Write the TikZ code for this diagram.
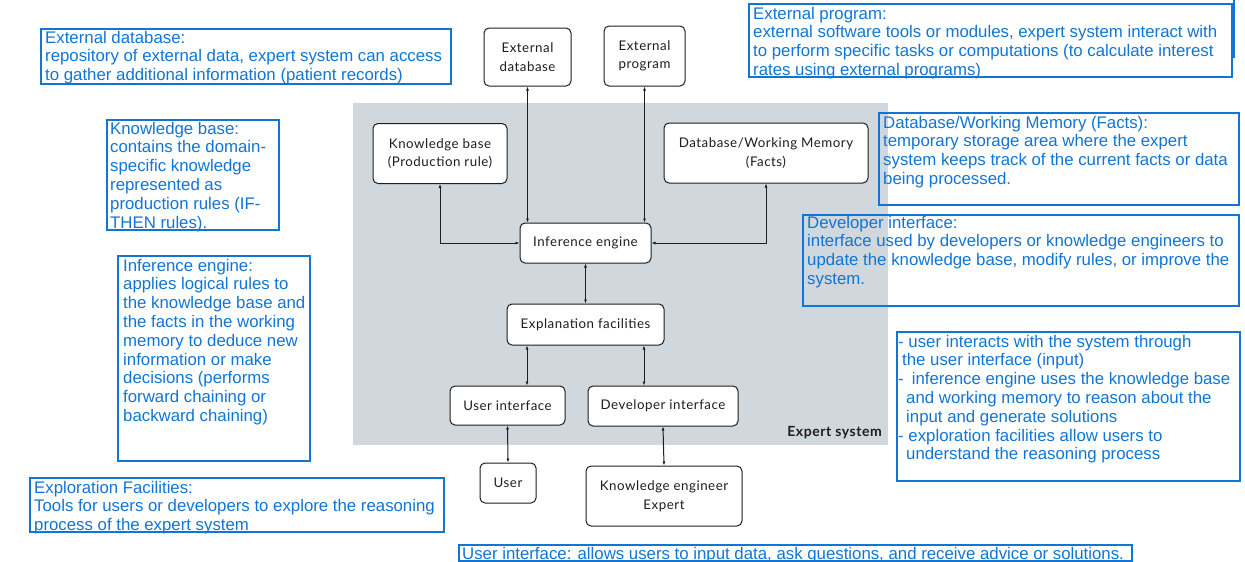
\documentclass[tikz,border=0pt]{standalone}
\usepackage{fontspec}
\setmainfont{Liberation Sans}
\newfontfamily\diafont[LetterSpace=4]{Lato}
\usetikzlibrary{arrows.meta}
\definecolor{bluec}{RGB}{16,117,212}
\definecolor{graybg}{RGB}{208,215,221}
\definecolor{inkc}{RGB}{30,30,30}
\begin{document}
\begin{tikzpicture}[x=1pt,y=-1pt,
  box/.style={draw=inkc, line width=1pt, rounded corners=5pt, fill=white, align=center, inner sep=0pt, font=\diafont\fontsize{13.3}{18.5}\selectfont, text=inkc},
  link/.style={draw=inkc, line width=1pt, {Latex[length=4pt,width=3pt]}-{Latex[length=4pt,width=3pt]}},
  note/.style={draw=bluec, line width=2.9pt},
  notetext/.style={anchor=north west, inner sep=0pt, align=left, text=bluec, font=\fontsize{16.8}{18.8}\selectfont}]
\useasboundingbox (0,0) rectangle (1245,562);
\fill[graybg] (353,103) rectangle (888,445);
\node[anchor=east, inner sep=0pt, text=inkc, font=\diafont\bfseries\fontsize{14}{16}\selectfont] (es) at (882,433) {Expert system};

\node[box, minimum width=87pt, minimum height=58pt] (extdb) at (527.5,57) {External\\database};
\node[box, minimum width=81pt, minimum height=60pt] (extprog) at (644.5,56) {External\\program};
\node[box, minimum width=134pt, minimum height=60pt] (kb) at (440,153.5) {Knowledge base\\(Production rule)};
\node[box, minimum width=204pt, minimum height=60pt] (dbwm) at (766,153) {Database/Working Memory\\(Facts)};
\node[box, minimum width=131pt, minimum height=40pt] (inf) at (585.5,243) {Inference engine};
\node[box, minimum width=157pt, minimum height=41pt] (expl) at (585.5,324.5) {Explanation facilities};
\node[box, minimum width=115pt, minimum height=39pt] (ui) at (507.5,405.5) {User interface};
\node[box, minimum width=150pt, minimum height=40pt] (di) at (663,406) {Developer interface};
\node[box, minimum width=56pt, minimum height=40pt] (user) at (508,483) {User};
\node[box, minimum width=156pt, minimum height=60pt] (ke) at (664,496) {Knowledge engineer\\Expert};

\draw[link] (extdb.south) -- (extdb.south |- inf.north);
\draw[link] (extprog.south) -- (extprog.south |- inf.north);
\draw[link] (kb.south) |- (inf.west);
\draw[link] (dbwm.south) |- (inf.east);
\draw[link] (inf.south) -- (expl.north);
\draw[link] ([xshift=19.5pt]ui.north) -- ([xshift=19.5pt]ui.north |- expl.south);
\draw[link] ([xshift=-19pt]di.north) -- ([xshift=-19pt]di.north |- expl.south);
\draw[link] (ui.south) -- (user.north);
\draw[link] (di.south) -- (ke.north);

% notes
\draw[note] (41,29) rectangle (451,84);
\node[notetext] (n1) at (45,29.8) {\strut External database:\\repository of external data, expert system can access\\to gather additional information (patient records)};
\draw[note] (107,120) rectangle (279,230);
\node[notetext] (n2) at (110,120.8) {\strut Knowledge base:\\contains the domain-\\specific knowledge\\represented as\\production rules (IF-\\THEN rules).};
\draw[note] (118,256) rectangle (310,461);
\node[notetext] (n3) at (123,257.8) {\strut Inference engine:\\applies logical rules to\\the knowledge base and\\the facts in the working\\memory to deduce new\\information or make\\decisions (performs\\forward chaining or\\backward chaining)};
\draw[note] (30,478) rectangle (444,532);
\node[notetext] (n4) at (34,479.8) {\strut Exploration Facilities:\\Tools for users or developers to explore the reasoning\\process of the expert system};
\draw[note] (459,545) rectangle (1132,561);
\node[notetext] (n5) at (462,545.8) {\strut User interface: allows users to input data, ask questions, and receive advice or solutions.};
\draw[note] (749,4) rectangle (1232,77);
\draw[note] (1234,0) -- (1234,58);
\node[notetext] (n6) at (753,5.8) {\strut External program:\\external software tools or modules, expert system interact with\\to perform specific tasks or computations (to calculate interest\\rates using external programs)};
\draw[note] (879,113) rectangle (1239,205);
\node[notetext] (n7) at (883,114.8) {\strut Database/Working Memory (Facts):\\temporary storage area where the expert\\system keeps track of the current facts or data\\being processed.};
\draw[note] (803,215) rectangle (1239,306);
\node[notetext] (n8) at (807,214.8) {\strut Developer interface:\\interface used by developers or knowledge engineers to\\update the knowledge base, modify rules, or improve the\\system.};
\draw[note] (897,332) rectangle (1240,481);
\node[notetext] (n9) at (898,333.8) {\strut - user interacts with the system through\\\hspace*{4pt}the user interface (input)\\-\hspace*{8pt}inference engine uses the knowledge base\\\hspace*{8pt}and working memory to reason about the\\\hspace*{8pt}input and generate solutions\\- exploration facilities allow users to\\\hspace*{8pt}understand the reasoning process};
\end{tikzpicture}
\end{document}
